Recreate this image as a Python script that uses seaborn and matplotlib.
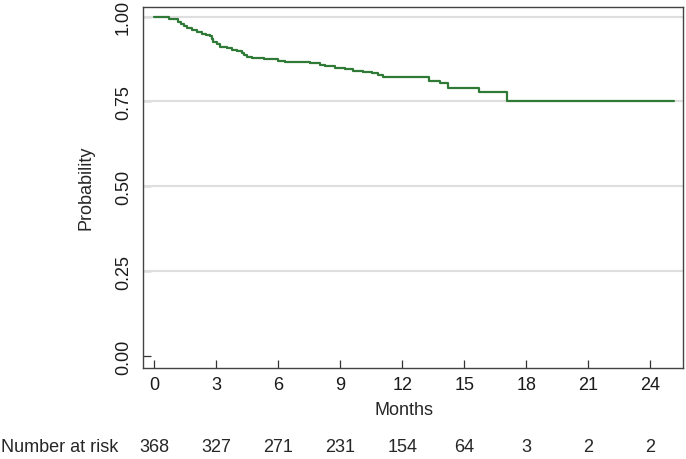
import matplotlib
matplotlib.use("Agg")
import matplotlib.pyplot as plt
import seaborn as sns
import pandas as pd

# Kaplan-Meier step curve
months = [0, 0.73, 1.16, 1.3, 1.45, 1.57, 1.8, 2.05, 2.3, 2.5, 2.7, 2.8, 2.86, 3.05,
          3.18, 3.5, 3.74, 4.0, 4.23, 4.35, 4.47, 4.71, 5.3, 6.0, 6.32, 7.53, 8.02,
          8.26, 8.74, 9.22, 9.63, 10.11, 10.52, 10.84, 11.08, 13.29, 13.82, 14.23,
          15.72, 17.05, 25.14]
survival = [1.0, 0.992, 0.985, 0.978, 0.972, 0.966, 0.960, 0.953, 0.949, 0.946, 0.943,
            0.935, 0.925, 0.918, 0.911, 0.906, 0.902, 0.898, 0.894, 0.888, 0.882, 0.877,
            0.875, 0.870, 0.865, 0.862, 0.857, 0.853, 0.848, 0.845, 0.840, 0.836, 0.833,
            0.827, 0.821, 0.810, 0.803, 0.791, 0.778, 0.752, 0.752]

x_ticks = [0, 3, 6, 9, 12, 15, 18, 21, 24]
y_ticks = [0.00, 0.25, 0.50, 0.75, 1.00]
y_tick_labels = ["0.00", "0.25", "0.50", "0.75", "1.00"]
at_risk = [368, 327, 271, 231, 154, 64, 3, 2, 2]

sns.set_style("white")
plt.rcParams["font.family"] = ["Liberation Sans", "DejaVu Sans"]

fig = plt.figure(figsize=(6.86, 4.60), dpi=100)
ax = fig.add_axes([143 / 686, 1 - 369 / 460, 540 / 686, 361 / 460])

df = pd.DataFrame({"Months": months, "Probability": survival})
sns.lineplot(data=df, x="Months", y="Probability", ax=ax, estimator=None, sort=False,
             drawstyle="steps-post", color="#2f7a36", linewidth=1.6, zorder=4)

for yv in y_ticks[1:]:
    ax.axhline(yv, color="#dedede", linewidth=1.5, zorder=2.6)

ax.set_xlim(-0.55, 25.58)
ax.set_ylim(-0.034, 1.028)
ax.set_xticks(x_ticks)
ax.set_xticklabels([str(v) for v in x_ticks])
ax.set_yticks(y_ticks)
ax.set_yticklabels(y_tick_labels, rotation=90, va="center")

ax.tick_params(axis="both", direction="in", length=6, width=0.9, color="#333333",
               labelsize=13, labelcolor="#1a1a1a", bottom=True, left=True,
               top=False, right=False)
ax.tick_params(axis="x", pad=6)
ax.tick_params(axis="y", pad=8)

for s in ax.spines.values():
    s.set_visible(True)
    s.set_color("#444444")
    s.set_linewidth(1.0)
    s.set_zorder(3)

ax.set_xlabel("")
ax.set_ylabel("")
fig.text(404 / 686, 1 - 411 / 460, "Months", ha="center", va="center", fontsize=13)
fig.text(86 / 686, 1 - 188 / 460, "Probability", ha="center", va="center",
         rotation=90, fontsize=13)

# Number at risk row
fig.text(1 / 686, 1 - 448 / 460, "Number at risk", ha="left", va="center", fontsize=13)
for xv, n in zip(x_ticks, at_risk):
    xd = ax.transData.transform((xv, 0))[0]
    fig.text(xd / fig.bbox.width, 1 - 448 / 460, str(n), ha="center", va="center",
             fontsize=13)

fig.savefig("out.png", dpi=100)
